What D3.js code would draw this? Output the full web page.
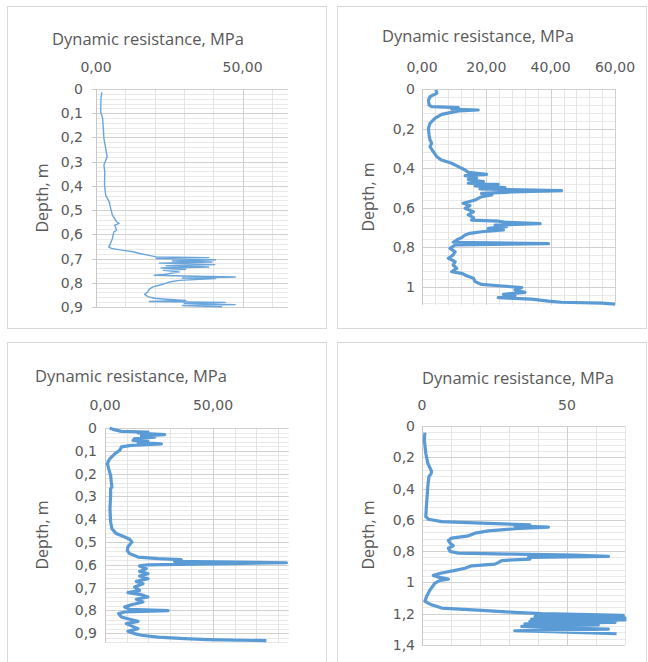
<!DOCTYPE html>
<html>
<head>
<meta charset="utf-8">
<script src="https://cdn.jsdelivr.net/npm/d3@7"></script>
<style>
  body { margin: 0; background: #fff; }
  svg { display: block; }
  text { font-family: "Open Sans", "Noto Sans", sans-serif; fill: #595959; }
  text.tick { font-family: "DejaVu Sans", sans-serif; font-size: 14px; }
</style>
</head>
<body>
<div id="chart"></div>
<script>
// depth (m) and dynamic resistance (MPa)
var depth1 = [0.014, 0.039, 0.094, 0.121, 0.163, 0.204, 0.245, 0.28, 0.314, 0.342, 0.397, 0.438, 0.466, 0.493, 0.521, 0.548, 0.555, 0.562, 0.583, 0.590, 0.617, 0.645, 0.652, 0.658, 0.665, 0.672, 0.679, 0.686, 0.693, 0.696, 0.700, 0.705, 0.710, 0.714, 0.719, 0.725, 0.730, 0.735, 0.739, 0.744, 0.749, 0.755, 0.766, 0.769, 0.773, 0.776, 0.780, 0.783, 0.790, 0.797, 0.808, 0.817, 0.826, 0.837, 0.848, 0.857, 0.864, 0.868, 0.873, 0.877, 0.881, 0.885, 0.890, 0.894, 0.899];
var resist1 = [2.0, 1.7, 1.6, 2.25, 2.5, 2.7, 3.3, 3.8, 2.7, 3.0, 2.9, 3.3, 4.5, 5.0, 5.6, 7.0, 7.9, 6.4, 7.0, 6.1, 5.6, 4.7, 4.3, 5.3, 8.7, 12.6, 14.9, 17.7, 20.5, 38.5, 20.5, 40.8, 26.0, 39.6, 21.6, 40.5, 23.9, 38.5, 22.2, 30.6, 23.0, 28.4, 23.3, 19.9, 34.0, 47.5, 29.5, 40.8, 28.4, 25.0, 22.2, 19.4, 18.2, 17.7, 16.6, 17.7, 19.9, 23.9, 30.6, 18.2, 44.1, 30.1, 47.5, 29.5, 43.0, 65.5];

var depth2 = [0.005, 0.022, 0.030, 0.039, 0.056, 0.081, 0.089, 0.094, 0.101, 0.106, 0.111, 0.118, 0.128, 0.148, 0.173, 0.199, 0.232, 0.258, 0.274, 0.291, 0.316, 0.342, 0.359, 0.375, 0.392, 0.409, 0.421, 0.431, 0.438, 0.448, 0.458, 0.468, 0.476, 0.481, 0.490, 0.498, 0.505, 0.513, 0.520, 0.527, 0.535, 0.544, 0.561, 0.577, 0.589, 0.603, 0.620, 0.636, 0.650, 0.662, 0.667, 0.673, 0.680, 0.687, 0.695, 0.704, 0.712, 0.721, 0.729, 0.737, 0.751, 0.763, 0.774, 0.781, 0.788, 0.805, 0.822, 0.838, 0.855, 0.872, 0.889, 0.906, 0.923, 0.931, 0.943, 0.956, 0.973, 0.987, 0.995, 1.003, 1.015, 1.027, 1.037, 1.045, 1.054, 1.061, 1.071, 1.077, 1.082, 1.087];
var resist2 = [4.3, 4.6, 3.5, 2.5, 2.0, 2.2, 3.0, 11.3, 9.2, 17.5, 11.3, 9.2, 6.1, 4.0, 2.5, 2.0, 2.2, 2.5, 3.0, 2.5, 3.5, 4.6, 6.1, 9.2, 11.3, 13.4, 14.4, 20.1, 13.4, 17.0, 14.4, 19.1, 14.4, 23.7, 16.5, 25.8, 18.0, 43.4, 27.9, 18.5, 21.7, 18.5, 16.5, 12.8, 14.9, 13.4, 16.0, 14.4, 16.0, 15.4, 23.7, 25.8, 36.7, 22.7, 26.3, 20.6, 25.3, 18.5, 14.9, 13.4, 12.3, 10.8, 9.7, 39.3, 10.3, 8.7, 10.3, 9.7, 8.2, 10.3, 9.7, 10.8, 9.2, 12.3, 13.9, 16.0, 16.5, 18.5, 24.8, 31.0, 28.9, 32.0, 25.3, 28.9, 23.7, 34.1, 39.3, 43.4, 55.9, 60.0];

var depth3 = [0.0, 0.006, 0.015, 0.018, 0.022, 0.029, 0.035, 0.040, 0.047, 0.054, 0.058, 0.064, 0.070, 0.076, 0.083, 0.098, 0.113, 0.135, 0.156, 0.178, 0.208, 0.237, 0.259, 0.266, 0.295, 0.354, 0.412, 0.442, 0.463, 0.478, 0.488, 0.500, 0.512, 0.522, 0.537, 0.551, 0.566, 0.573, 0.577, 0.585, 0.591, 0.600, 0.605, 0.617, 0.629, 0.639, 0.649, 0.661, 0.673, 0.683, 0.697, 0.712, 0.722, 0.731, 0.741, 0.751, 0.763, 0.775, 0.785, 0.795, 0.801, 0.807, 0.814, 0.829, 0.839, 0.848, 0.858, 0.868, 0.880, 0.892, 0.902, 0.909, 0.917, 0.924, 0.928, 0.933];
var resist3 = [2.2, 3.7, 7.6, 19.9, 15.3, 27.6, 16.8, 23.0, 13.7, 13.0, 19.9, 15.3, 26.1, 12.2, 7.6, 6.8, 4.5, 2.2, 1.1, 1.7, 2.6, 2.9, 3.2, 2.6, 2.6, 2.3, 2.6, 3.2, 5.2, 9.1, 11.4, 12.5, 11.4, 10.6, 10.3, 11.4, 15.3, 24.5, 35.3, 32.2, 84.0, 19.9, 16.0, 19.1, 16.0, 19.9, 16.0, 19.9, 14.5, 17.6, 13.7, 16.0, 10.6, 16.8, 19.9, 14.5, 17.6, 12.2, 9.1, 11.4, 29.2, 9.1, 6.3, 7.6, 11.4, 15.3, 9.9, 12.2, 15.3, 10.6, 13.7, 16.8, 24.5, 36.9, 47.7, 74.7];

var depth4 = [0.043, 0.089, 0.174, 0.238, 0.270, 0.291, 0.306, 0.323, 0.387, 0.494, 0.579, 0.596, 0.611, 0.621, 0.632, 0.638, 0.647, 0.657, 0.670, 0.685, 0.702, 0.717, 0.732, 0.749, 0.766, 0.781, 0.802, 0.813, 0.819, 0.826, 0.834, 0.840, 0.851, 0.860, 0.872, 0.883, 0.894, 0.909, 0.923, 0.940, 0.955, 0.966, 0.979, 0.987, 1.004, 1.047, 1.089, 1.121, 1.143, 1.164, 1.179, 1.191, 1.200, 1.211, 1.217, 1.226, 1.234, 1.240, 1.249, 1.255, 1.264, 1.272, 1.281, 1.291, 1.298, 1.309, 1.315, 1.328];
var resist4 = [1.0, 0.8, 1.3, 2.0, 2.8, 3.3, 3.1, 2.4, 2.0, 1.6, 1.3, 2.2, 6.8, 20.6, 37.2, 32.0, 43.6, 32.0, 22.9, 18.3, 16.0, 10.2, 9.1, 9.7, 10.8, 9.1, 9.7, 12.5, 32.0, 52.8, 64.3, 36.7, 37.2, 27.5, 26.4, 25.2, 17.1, 14.8, 11.4, 6.8, 3.9, 5.6, 9.1, 6.2, 4.5, 2.8, 1.6, 1.0, 3.3, 6.8, 20.6, 32.0, 41.3, 69.4, 39.0, 70.0, 37.8, 70.0, 37.2, 66.6, 35.5, 60.8, 34.4, 45.9, 64.3, 32.0, 44.7, 67.1];

var xTickLabels1 = ["0,00", "50,00"];
var xTickLabels2 = ["0,00", "20,00", "40,00", "60,00"];
var xTickLabels3 = ["0,00", "50,00"];
var xTickLabels4 = ["0", "50"];

var commaFmt = function(v){ return String(+v.toFixed(2)).replace(".", ","); };

var panels = [
  { box: [7, 6, 319, 322], depth: depth1, value: resist1, xTicks: [0, 50], xLabels: xTickLabels1,
    xMax: 65.5, xMinor: 10, yMax: 0.9, yMajor: 0.1, yMinor: 0.02,
    plot: [96, 89, 288, 307], title: [148, 45], xLabY: 72, yLabX: 83, yTitle: [42, 198], thin: true, ticks: true },
  { box: [337, 6, 309, 322], depth: depth2, value: resist2, xTicks: [0, 20, 40, 60], xLabels: xTickLabels2,
    xMax: 60, xMinor: 4, yMax: 1.09, yMajor: 0.2, yMinor: 0.04,
    plot: [422, 89, 615, 304.8], title: [478, 42], xLabY: 72, yLabX: 415, yTitle: [368, 197] },
  { box: [7, 342, 319, 330], depth: depth3, value: resist3, xTicks: [0, 50], xLabels: xTickLabels3,
    xMax: 85, xMinor: 10, yMax: 0.94, yMajor: 0.1, yMinor: 0.02,
    plot: [105, 428, 288.6, 642.3], title: [131, 382], xLabY: 410, yLabX: 97, yTitle: [42, 535] },
  { box: [337, 342, 309, 330], depth: depth4, value: resist4, xTicks: [0, 50], xLabels: xTickLabels4,
    xMax: 70, xMinor: 10, yMax: 1.4, yMajor: 0.2, yMinor: 0.04,
    plot: [422, 426, 625, 645], title: [518, 384], xLabY: 410, yLabX: 415, yTitle: [368, 535] }
];

var svg = d3.select("#chart").append("svg")
  .attr("width", 648)
  .attr("height", 662);

panels.forEach(drawPanel);

function drawPanel(p) {
  var g = svg.append("g");

  g.append("rect")
    .attr("x", p.box[0] + 0.5).attr("y", p.box[1] + 0.5)
    .attr("width", p.box[2]).attr("height", p.box[3])
    .attr("fill", "#fff").attr("stroke", "#d9d9d9");

  var x = d3.scaleLinear().domain([0, p.xMax]).range([p.plot[0], p.plot[2]]);
  var y = d3.scaleLinear().domain([0, p.yMax]).range([p.plot[1], p.plot[3]]);

  var eps = 1e-9;
  var yMinorVals = d3.range(0, p.yMax + eps, p.yMinor);
  var yMajorVals = d3.range(0, p.yMax + eps, p.yMajor);
  var xMinorVals = d3.range(0, p.xMax + eps, p.xMinor);

  // minor grid
  g.append("g").selectAll("line").data(yMinorVals).enter().append("line")
    .attr("x1", p.plot[0]).attr("x2", p.plot[2])
    .attr("y1", d => Math.round(y(d)) + 0.5).attr("y2", d => Math.round(y(d)) + 0.5)
    .attr("stroke", "#e9e9e9");
  g.append("g").selectAll("line").data(xMinorVals).enter().append("line")
    .attr("x1", d => Math.round(x(d)) + 0.5).attr("x2", d => Math.round(x(d)) + 0.5)
    .attr("y1", p.plot[1]).attr("y2", p.plot[3])
    .attr("stroke", "#e4e4e4");

  // major grid
  g.append("g").selectAll("line").data(yMajorVals).enter().append("line")
    .attr("x1", p.plot[0]).attr("x2", p.plot[2])
    .attr("y1", d => Math.round(y(d)) + 0.5).attr("y2", d => Math.round(y(d)) + 0.5)
    .attr("stroke", "#d0d0d0");
  g.append("g").selectAll("line").data(p.xTicks).enter().append("line")
    .attr("x1", d => Math.round(x(d)) + 0.5).attr("x2", d => Math.round(x(d)) + 0.5)
    .attr("y1", p.plot[1]).attr("y2", p.plot[3])
    .attr("stroke", "#d0d0d0");

  // value axis line at 0
  g.append("line")
    .attr("x1", Math.round(x(0)) + 0.5).attr("x2", Math.round(x(0)) + 0.5)
    .attr("y1", p.plot[1]).attr("y2", p.plot[3])
    .attr("stroke", "#c8c8c8");

  if (p.ticks) {
    g.append("g").selectAll("line").data(yMajorVals).enter().append("line")
      .attr("x1", p.plot[0] - 4).attr("x2", p.plot[0])
      .attr("y1", d => Math.round(y(d)) + 0.5).attr("y2", d => Math.round(y(d)) + 0.5)
      .attr("stroke", "#c8c8c8");
  }

  // x tick labels (top)
  g.append("g").selectAll("text").data(p.xTicks).enter().append("text")
    .attr("class", "tick")
    .attr("x", d => x(d)).attr("y", p.xLabY)
    .attr("text-anchor", "middle")
    .text((d, i) => p.xLabels[i]);

  // y tick labels
  g.append("g").selectAll("text").data(yMajorVals).enter().append("text")
    .attr("class", "tick")
    .attr("x", p.yLabX).attr("y", d => y(d) + 5)
    .attr("text-anchor", "end")
    .text(d => commaFmt(d));

  // titles
  g.append("text")
    .attr("x", p.title[0]).attr("y", p.title[1])
    .attr("text-anchor", "middle")
    .style("font-size", "16.5px")
    .text("Dynamic resistance, MPa");

  g.append("text")
    .attr("transform", "translate(" + p.yTitle[0] + "," + p.yTitle[1] + ") rotate(-90)")
    .attr("text-anchor", "middle")
    .attr("dy", "0.35em")
    .style("font-size", "16px")
    .text("Depth, m");

  // profile
  var pts = p.depth.map((d, i) => [p.value[i], d]);
  var line = d3.line()
    .x(d => x(Math.min(d[0], p.xMax)))
    .y(d => y(d[1]));

  g.append("path")
    .datum(pts)
    .attr("d", line)
    .attr("fill", "none")
    .attr("stroke", p.thin ? "#6aa5dc" : "#5b9bd5")
    .attr("stroke-width", p.thin ? 1.4 : 3.2)
    .attr("stroke-linejoin", "round");
}
</script>
</body>
</html>
